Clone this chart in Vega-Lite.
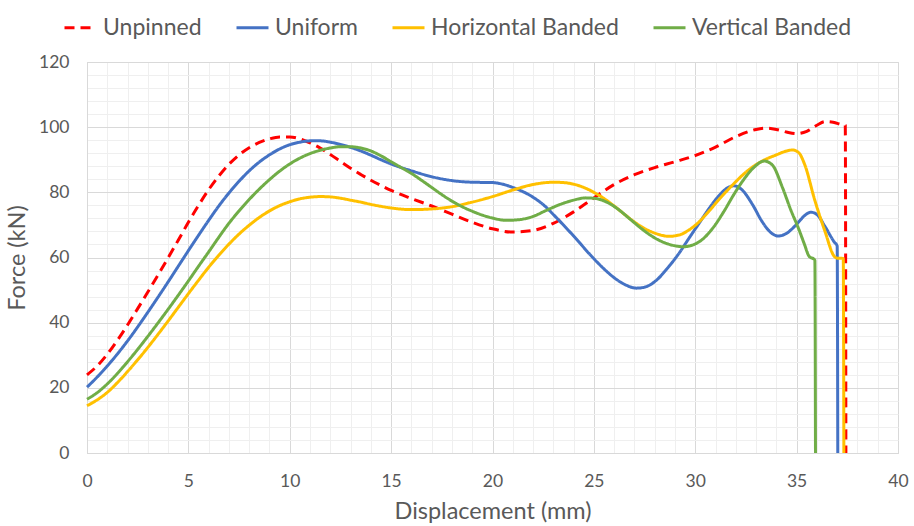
{
  "$schema": "https://vega.github.io/schema/vega-lite/v6.json",
  "width": 811,
  "height": 391,
  "autosize": "none",
  "padding": {"left": 87, "top": 62, "right": 16, "bottom": 73},
  "background": "white",
  "config": {
    "view": {"stroke": "#d9d9d9", "strokeWidth": 1},
    "font": "Lato",
    "axis": {
      "labelFont": "Lato",
      "titleFont": "Lato",
      "labelColor": "#595959",
      "titleColor": "#595959",
      "labelFontSize": 17.5,
      "titleFontSize": 23.5,
      "titleFontWeight": "normal",
      "ticks": false,
      "tickSize": 0,
      "domainColor": "#d9d9d9",
      "gridWidth": 1
    },
    "legend": {
      "orient": "none",
      "direction": "horizontal",
      "legendX": -24,
      "legendY": -52,
      "symbolType": "stroke",
      "symbolSize": 1024,
      "symbolStrokeWidth": 3,
      "labelFont": "Lato",
      "labelFontSize": 23,
      "labelColor": "#595959",
      "labelOffset": 5,
      "labelLimit": 0,
      "columnPadding": 28,
      "padding": 0
    }
  },
  "data": {
    "values": [
      {"s":"Unpinned","x":0,"y":24},{"s":"Unpinned","x":0.5,"y":26.7},{"s":"Unpinned","x":1,"y":30.3},{"s":"Unpinned","x":1.5,"y":34.6},{"s":"Unpinned","x":2,"y":39.3},{"s":"Unpinned","x":2.5,"y":44.3},{"s":"Unpinned","x":3,"y":49.4},{"s":"Unpinned","x":3.5,"y":54.6},{"s":"Unpinned","x":4,"y":59.9},{"s":"Unpinned","x":4.5,"y":65.3},{"s":"Unpinned","x":5,"y":70.8},{"s":"Unpinned","x":5.5,"y":76},{"s":"Unpinned","x":6,"y":80.8},{"s":"Unpinned","x":6.5,"y":85},{"s":"Unpinned","x":7,"y":88.6},{"s":"Unpinned","x":7.5,"y":91.5},{"s":"Unpinned","x":8,"y":93.7},{"s":"Unpinned","x":8.5,"y":95.3},{"s":"Unpinned","x":9,"y":96.4},{"s":"Unpinned","x":9.5,"y":97},{"s":"Unpinned","x":10,"y":97},{"s":"Unpinned","x":10.5,"y":96.4},{"s":"Unpinned","x":11,"y":95.2},{"s":"Unpinned","x":11.5,"y":93.6},{"s":"Unpinned","x":12,"y":91.6},{"s":"Unpinned","x":12.5,"y":89.5},{"s":"Unpinned","x":13,"y":87.4},{"s":"Unpinned","x":13.5,"y":85.5},{"s":"Unpinned","x":14,"y":83.7},{"s":"Unpinned","x":14.5,"y":82.1},{"s":"Unpinned","x":15,"y":80.6},{"s":"Unpinned","x":16,"y":78.1},{"s":"Unpinned","x":17,"y":75.8},{"s":"Unpinned","x":18,"y":73.3},{"s":"Unpinned","x":19,"y":70.8},{"s":"Unpinned","x":20,"y":68.8},{"s":"Unpinned","x":21,"y":67.8},{"s":"Unpinned","x":22,"y":68.3},{"s":"Unpinned","x":23,"y":70.5},{"s":"Unpinned","x":24,"y":74},{"s":"Unpinned","x":25,"y":78.3},{"s":"Unpinned","x":26,"y":82.4},{"s":"Unpinned","x":27,"y":85.4},{"s":"Unpinned","x":28,"y":87.6},{"s":"Unpinned","x":29,"y":89.4},{"s":"Unpinned","x":30,"y":91.3},{"s":"Unpinned","x":31,"y":93.9},{"s":"Unpinned","x":32,"y":97.1},{"s":"Unpinned","x":33,"y":99.3},{"s":"Unpinned","x":33.5,"y":99.7},{"s":"Unpinned","x":34,"y":99.3},{"s":"Unpinned","x":34.5,"y":98.5},{"s":"Unpinned","x":35,"y":98},{"s":"Unpinned","x":35.5,"y":98.7},{"s":"Unpinned","x":36,"y":100.6},{"s":"Unpinned","x":36.4,"y":101.7},{"s":"Unpinned","x":36.8,"y":101.5},{"s":"Unpinned","x":37.2,"y":100.8},{"s":"Unpinned","x":37.4,"y":100.5},{"s":"Unpinned","x":37.43,"y":0},
      {"s":"Uniform","x":0,"y":20.2},{"s":"Uniform","x":0.5,"y":23.3},{"s":"Uniform","x":1,"y":26.7},{"s":"Uniform","x":1.5,"y":30.4},{"s":"Uniform","x":2,"y":34.4},{"s":"Uniform","x":2.5,"y":38.7},{"s":"Uniform","x":3,"y":43.2},{"s":"Uniform","x":3.5,"y":47.8},{"s":"Uniform","x":4,"y":52.5},{"s":"Uniform","x":4.5,"y":57.3},{"s":"Uniform","x":5,"y":62.1},{"s":"Uniform","x":5.5,"y":66.8},{"s":"Uniform","x":6,"y":71.4},{"s":"Uniform","x":6.5,"y":75.8},{"s":"Uniform","x":7,"y":79.8},{"s":"Uniform","x":7.5,"y":83.4},{"s":"Uniform","x":8,"y":86.6},{"s":"Uniform","x":8.5,"y":89.3},{"s":"Uniform","x":9,"y":91.5},{"s":"Uniform","x":9.5,"y":93.3},{"s":"Uniform","x":10,"y":94.6},{"s":"Uniform","x":10.5,"y":95.4},{"s":"Uniform","x":11,"y":95.8},{"s":"Uniform","x":11.5,"y":95.8},{"s":"Uniform","x":12,"y":95.4},{"s":"Uniform","x":12.5,"y":94.7},{"s":"Uniform","x":13,"y":93.8},{"s":"Uniform","x":13.5,"y":92.7},{"s":"Uniform","x":14,"y":91.4},{"s":"Uniform","x":14.5,"y":90},{"s":"Uniform","x":15,"y":88.7},{"s":"Uniform","x":15.5,"y":87.6},{"s":"Uniform","x":16,"y":86.6},{"s":"Uniform","x":17,"y":84.8},{"s":"Uniform","x":18,"y":83.6},{"s":"Uniform","x":19,"y":83.1},{"s":"Uniform","x":20,"y":83},{"s":"Uniform","x":20.5,"y":82.5},{"s":"Uniform","x":21,"y":81.5},{"s":"Uniform","x":22,"y":78.5},{"s":"Uniform","x":22.6,"y":75.7},{"s":"Uniform","x":23,"y":73.2},{"s":"Uniform","x":23.6,"y":69.3},{"s":"Uniform","x":24,"y":66.6},{"s":"Uniform","x":24.9,"y":60.3},{"s":"Uniform","x":25.5,"y":56.5},{"s":"Uniform","x":26,"y":53.8},{"s":"Uniform","x":26.5,"y":51.8},{"s":"Uniform","x":27.1,"y":50.6},{"s":"Uniform","x":27.5,"y":50.9},{"s":"Uniform","x":28.1,"y":53.1},{"s":"Uniform","x":28.6,"y":56.5},{"s":"Uniform","x":29.2,"y":61.3},{"s":"Uniform","x":29.7,"y":66},{"s":"Uniform","x":30.2,"y":70.6},{"s":"Uniform","x":30.7,"y":75.2},{"s":"Uniform","x":31.2,"y":79.2},{"s":"Uniform","x":31.6,"y":81.4},{"s":"Uniform","x":31.9,"y":82},{"s":"Uniform","x":32.3,"y":80.8},{"s":"Uniform","x":32.8,"y":76.5},{"s":"Uniform","x":33.3,"y":71},{"s":"Uniform","x":33.7,"y":67.8},{"s":"Uniform","x":34.1,"y":66.6},{"s":"Uniform","x":34.5,"y":67.4},{"s":"Uniform","x":35,"y":70.2},{"s":"Uniform","x":35.4,"y":72.9},{"s":"Uniform","x":35.7,"y":73.9},{"s":"Uniform","x":36,"y":73.2},{"s":"Uniform","x":36.4,"y":69.5},{"s":"Uniform","x":36.85,"y":64.8},{"s":"Uniform","x":37,"y":63.5},{"s":"Uniform","x":37.03,"y":0},
      {"s":"Horizontal Banded","x":0,"y":14.5},{"s":"Horizontal Banded","x":0.5,"y":16.3},{"s":"Horizontal Banded","x":1,"y":18.6},{"s":"Horizontal Banded","x":1.5,"y":21.6},{"s":"Horizontal Banded","x":2,"y":25},{"s":"Horizontal Banded","x":2.5,"y":28.6},{"s":"Horizontal Banded","x":3,"y":32.4},{"s":"Horizontal Banded","x":3.5,"y":36.4},{"s":"Horizontal Banded","x":4,"y":40.5},{"s":"Horizontal Banded","x":4.5,"y":44.7},{"s":"Horizontal Banded","x":5,"y":48.9},{"s":"Horizontal Banded","x":5.5,"y":53},{"s":"Horizontal Banded","x":6,"y":57},{"s":"Horizontal Banded","x":6.5,"y":60.7},{"s":"Horizontal Banded","x":7,"y":64.1},{"s":"Horizontal Banded","x":7.5,"y":67.2},{"s":"Horizontal Banded","x":8,"y":69.9},{"s":"Horizontal Banded","x":8.5,"y":72.3},{"s":"Horizontal Banded","x":9,"y":74.3},{"s":"Horizontal Banded","x":9.5,"y":75.9},{"s":"Horizontal Banded","x":10,"y":77.1},{"s":"Horizontal Banded","x":10.5,"y":78},{"s":"Horizontal Banded","x":11,"y":78.5},{"s":"Horizontal Banded","x":11.5,"y":78.7},{"s":"Horizontal Banded","x":12,"y":78.6},{"s":"Horizontal Banded","x":12.5,"y":78.2},{"s":"Horizontal Banded","x":13,"y":77.6},{"s":"Horizontal Banded","x":13.5,"y":77},{"s":"Horizontal Banded","x":14,"y":76.3},{"s":"Horizontal Banded","x":14.5,"y":75.7},{"s":"Horizontal Banded","x":15,"y":75.2},{"s":"Horizontal Banded","x":16,"y":74.7},{"s":"Horizontal Banded","x":17,"y":74.9},{"s":"Horizontal Banded","x":18,"y":75.6},{"s":"Horizontal Banded","x":19,"y":77},{"s":"Horizontal Banded","x":20,"y":78.7},{"s":"Horizontal Banded","x":21,"y":80.7},{"s":"Horizontal Banded","x":22,"y":82.4},{"s":"Horizontal Banded","x":23,"y":83.1},{"s":"Horizontal Banded","x":23.5,"y":83},{"s":"Horizontal Banded","x":24,"y":82.5},{"s":"Horizontal Banded","x":24.5,"y":81.5},{"s":"Horizontal Banded","x":25,"y":80},{"s":"Horizontal Banded","x":25.5,"y":78.1},{"s":"Horizontal Banded","x":26,"y":75.8},{"s":"Horizontal Banded","x":26.5,"y":73.3},{"s":"Horizontal Banded","x":27,"y":70.9},{"s":"Horizontal Banded","x":27.5,"y":68.9},{"s":"Horizontal Banded","x":28,"y":67.5},{"s":"Horizontal Banded","x":28.7,"y":66.5},{"s":"Horizontal Banded","x":29.2,"y":66.9},{"s":"Horizontal Banded","x":29.7,"y":68.5},{"s":"Horizontal Banded","x":30.2,"y":71},{"s":"Horizontal Banded","x":30.7,"y":74.4},{"s":"Horizontal Banded","x":31.2,"y":78},{"s":"Horizontal Banded","x":31.8,"y":82},{"s":"Horizontal Banded","x":32.5,"y":86.2},{"s":"Horizontal Banded","x":33,"y":88.5},{"s":"Horizontal Banded","x":33.5,"y":90.2},{"s":"Horizontal Banded","x":34,"y":91.5},{"s":"Horizontal Banded","x":34.4,"y":92.5},{"s":"Horizontal Banded","x":34.8,"y":93},{"s":"Horizontal Banded","x":35.1,"y":92.2},{"s":"Horizontal Banded","x":35.4,"y":88.5},{"s":"Horizontal Banded","x":35.9,"y":77.5},{"s":"Horizontal Banded","x":36.4,"y":68},{"s":"Horizontal Banded","x":36.85,"y":60.4},{"s":"Horizontal Banded","x":37,"y":59.8},{"s":"Horizontal Banded","x":37.3,"y":59.7},{"s":"Horizontal Banded","x":37.33,"y":0},
      {"s":"Vertical Banded","x":0,"y":16.5},{"s":"Vertical Banded","x":0.5,"y":18.5},{"s":"Vertical Banded","x":1,"y":21.2},{"s":"Vertical Banded","x":1.5,"y":24.4},{"s":"Vertical Banded","x":2,"y":28},{"s":"Vertical Banded","x":2.5,"y":31.8},{"s":"Vertical Banded","x":3,"y":35.8},{"s":"Vertical Banded","x":3.5,"y":39.9},{"s":"Vertical Banded","x":4,"y":44.1},{"s":"Vertical Banded","x":4.5,"y":48.4},{"s":"Vertical Banded","x":5,"y":52.8},{"s":"Vertical Banded","x":5.5,"y":57.3},{"s":"Vertical Banded","x":6,"y":61.7},{"s":"Vertical Banded","x":6.5,"y":66.2},{"s":"Vertical Banded","x":7,"y":70.5},{"s":"Vertical Banded","x":7.5,"y":74.3},{"s":"Vertical Banded","x":8,"y":77.8},{"s":"Vertical Banded","x":8.5,"y":81},{"s":"Vertical Banded","x":9,"y":83.9},{"s":"Vertical Banded","x":9.5,"y":86.5},{"s":"Vertical Banded","x":10,"y":88.7},{"s":"Vertical Banded","x":10.5,"y":90.5},{"s":"Vertical Banded","x":11,"y":91.9},{"s":"Vertical Banded","x":11.5,"y":92.9},{"s":"Vertical Banded","x":12,"y":93.6},{"s":"Vertical Banded","x":12.5,"y":94},{"s":"Vertical Banded","x":13,"y":94},{"s":"Vertical Banded","x":13.5,"y":93.6},{"s":"Vertical Banded","x":14,"y":92.7},{"s":"Vertical Banded","x":14.5,"y":91.2},{"s":"Vertical Banded","x":15,"y":89.4},{"s":"Vertical Banded","x":15.5,"y":87.6},{"s":"Vertical Banded","x":16,"y":85.8},{"s":"Vertical Banded","x":16.5,"y":83.7},{"s":"Vertical Banded","x":17,"y":81.5},{"s":"Vertical Banded","x":17.5,"y":79.3},{"s":"Vertical Banded","x":18,"y":77.3},{"s":"Vertical Banded","x":18.5,"y":75.6},{"s":"Vertical Banded","x":19,"y":74.2},{"s":"Vertical Banded","x":19.5,"y":73},{"s":"Vertical Banded","x":20,"y":72.1},{"s":"Vertical Banded","x":20.7,"y":71.4},{"s":"Vertical Banded","x":21.3,"y":71.6},{"s":"Vertical Banded","x":22,"y":72.6},{"s":"Vertical Banded","x":22.6,"y":74.3},{"s":"Vertical Banded","x":23.3,"y":76.2},{"s":"Vertical Banded","x":24,"y":77.6},{"s":"Vertical Banded","x":24.6,"y":78.3},{"s":"Vertical Banded","x":25.1,"y":78.1},{"s":"Vertical Banded","x":25.6,"y":77.1},{"s":"Vertical Banded","x":26.2,"y":74.8},{"s":"Vertical Banded","x":26.8,"y":71.7},{"s":"Vertical Banded","x":27.4,"y":68.6},{"s":"Vertical Banded","x":27.9,"y":66.4},{"s":"Vertical Banded","x":28.5,"y":64.5},{"s":"Vertical Banded","x":29,"y":63.6},{"s":"Vertical Banded","x":29.4,"y":63.3},{"s":"Vertical Banded","x":29.9,"y":63.9},{"s":"Vertical Banded","x":30.4,"y":65.8},{"s":"Vertical Banded","x":30.9,"y":69.3},{"s":"Vertical Banded","x":31.4,"y":74},{"s":"Vertical Banded","x":31.9,"y":79.3},{"s":"Vertical Banded","x":32.4,"y":84},{"s":"Vertical Banded","x":32.9,"y":87.7},{"s":"Vertical Banded","x":33.4,"y":89.6},{"s":"Vertical Banded","x":33.8,"y":88.4},{"s":"Vertical Banded","x":34.3,"y":81.5},{"s":"Vertical Banded","x":34.7,"y":74.8},{"s":"Vertical Banded","x":35.1,"y":68.8},{"s":"Vertical Banded","x":35.4,"y":63.8},{"s":"Vertical Banded","x":35.6,"y":60.5},{"s":"Vertical Banded","x":35.9,"y":59.2},{"s":"Vertical Banded","x":35.93,"y":0}
    ]
  },
  "mark": {"type": "line", "strokeWidth": 3, "interpolate": "monotone"},
  "encoding": {
    "x": {
      "field": "x",
      "type": "quantitative",
      "scale": {"domain": [0, 40], "nice": false, "zero": false},
      "axis": {
        "title": "Displacement (mm)",
        "values": [0,1,2,3,4,5,6,7,8,9,10,11,12,13,14,15,16,17,18,19,20,21,22,23,24,25,26,27,28,29,30,31,32,33,34,35,36,37,38,39,40],
        "labelExpr": "datum.value % 5 === 0 ? datum.label : ''",
        "gridColor": {"condition": {"test": "datum.value % 5 === 0", "value": "#d9d9d9"}, "value": "#efefef"},
        "labelPadding": 19,
        "titlePadding": 10,
        "labelFlush": false,
        "labelOverlap": false
      }
    },
    "y": {
      "field": "y",
      "type": "quantitative",
      "scale": {"domain": [0, 120], "nice": false},
      "axis": {
        "title": "Force (kN)",
        "values": [0,4,8,12,16,20,24,28,32,36,40,44,48,52,56,60,64,68,72,76,80,84,88,92,96,100,104,108,112,116,120],
        "labelExpr": "datum.value % 20 === 0 ? datum.label : ''",
        "gridColor": {"condition": {"test": "datum.value % 20 === 0", "value": "#d9d9d9"}, "value": "#efefef"},
        "labelPadding": 18,
        "titlePadding": 9,
        "labelOverlap": false
      }
    },
    "color": {
      "field": "s",
      "type": "nominal",
      "title": null,
      "scale": {
        "domain": ["Unpinned", "Uniform", "Horizontal Banded", "Vertical Banded"],
        "range": ["#ff0000", "#4472c4", "#ffc000", "#70ad47"]
      }
    },
    "strokeDash": {
      "field": "s",
      "type": "nominal",
      "title": null,
      "scale": {
        "domain": ["Unpinned", "Uniform", "Horizontal Banded", "Vertical Banded"],
        "range": [[10, 6], [1, 0], [1, 0], [1, 0]]
      }
    }
  }
}
